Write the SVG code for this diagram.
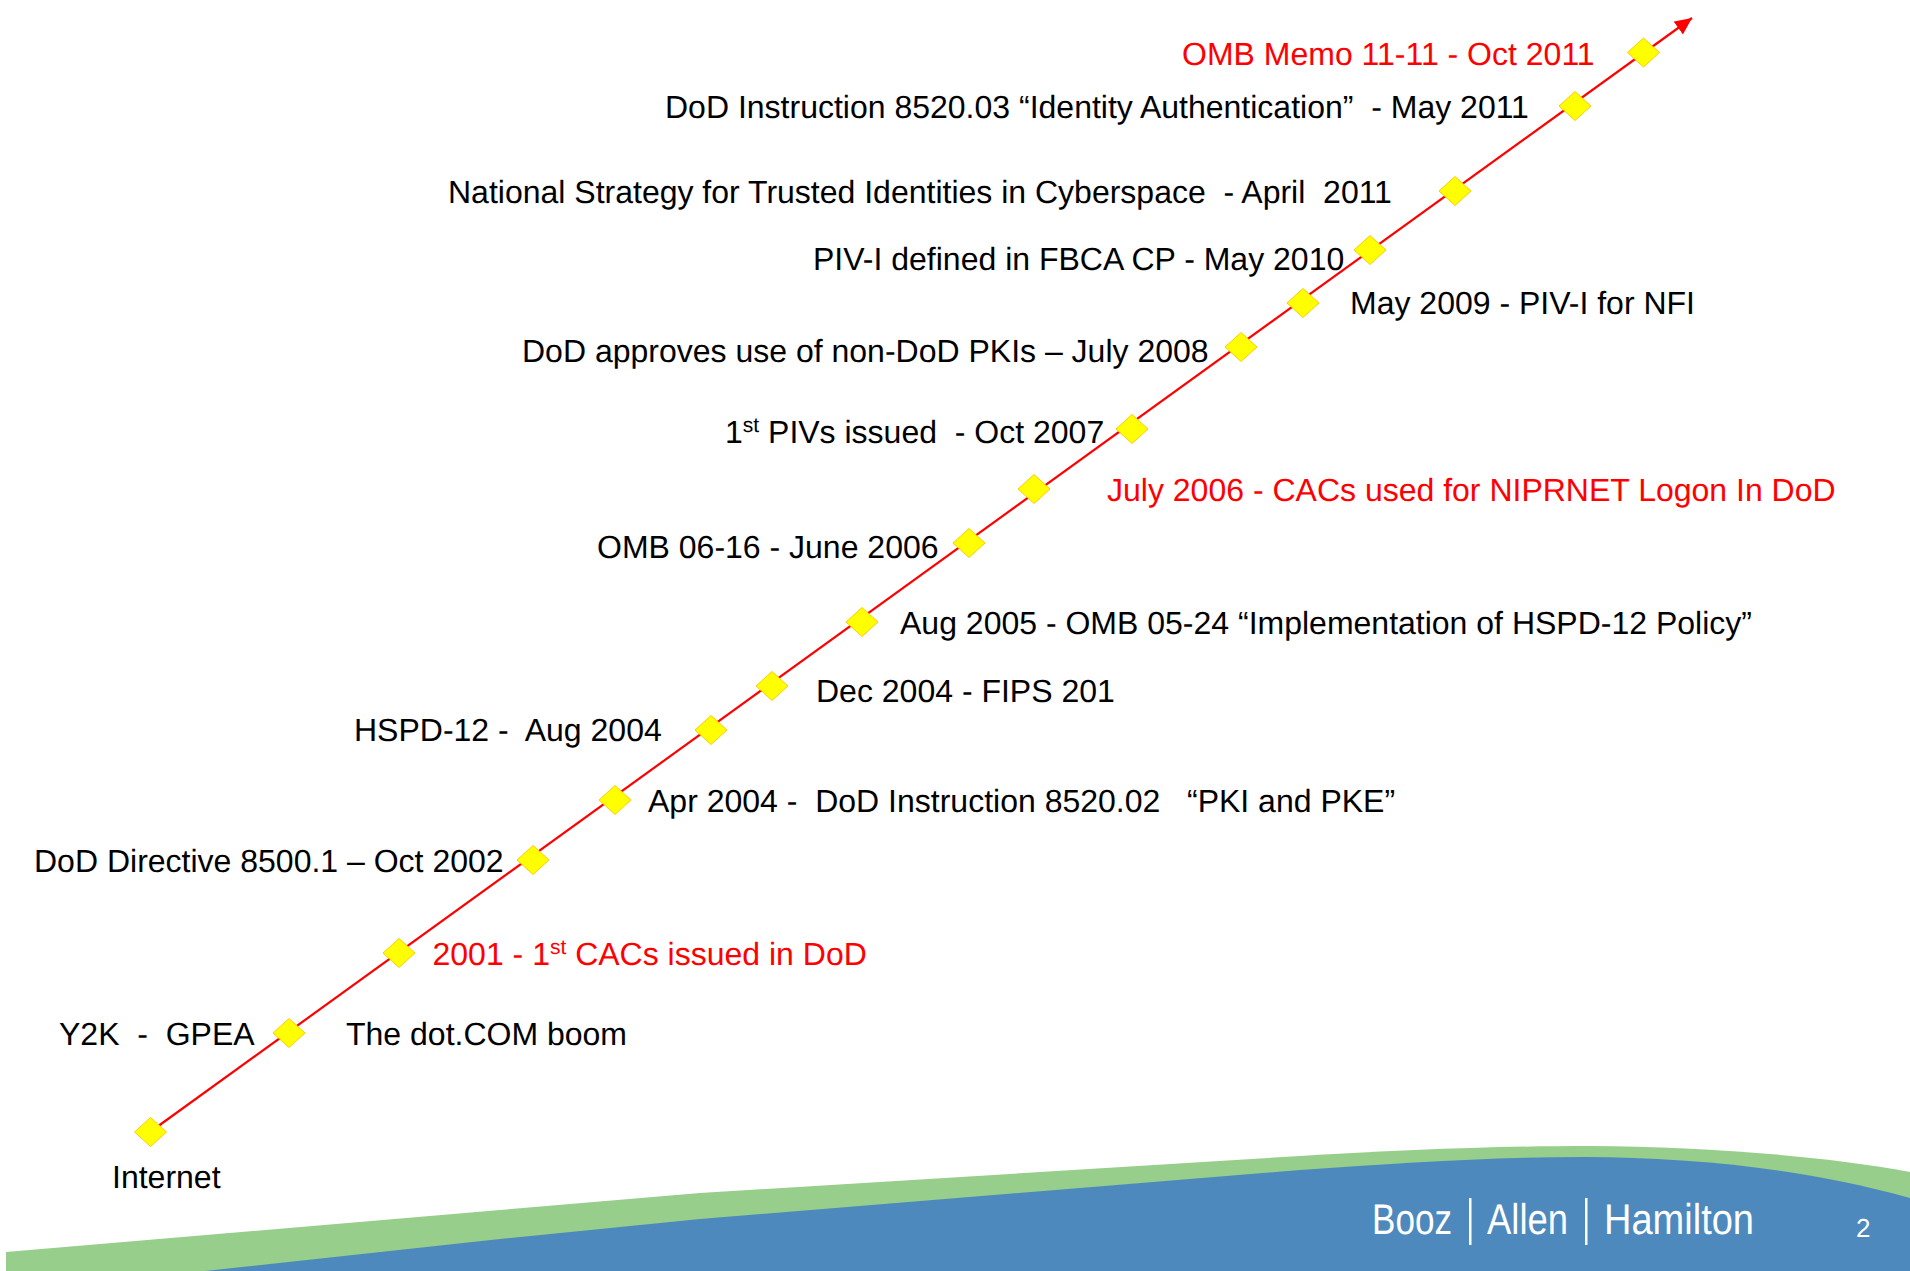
<svg xmlns="http://www.w3.org/2000/svg" width="1910" height="1271" viewBox="0 0 1910 1271">
<style>
text{font-family:"Liberation Sans",Arial,sans-serif;font-size:32px;fill:#000;text-rendering:geometricPrecision}
.r{fill:#f00}
.s{font-size:21px}
.d{fill:#ff0;stroke:#fc0;stroke-width:1}
.w{fill:#fff;font-size:43px}
</style>
<defs>
<marker id="a" markerUnits="userSpaceOnUse" markerWidth="20" markerHeight="18" refX="17" refY="8" orient="auto"><path d="M0 0L17 8L0 16z" fill="#f00"/></marker>
<path id="m" class="d" d="M0-14.500L16 0L0 14.500L-16 0z"/>
</defs>
<rect width="1910" height="1271" fill="#fff"/>
<g id="background">
<path fill="#98ce8b" d="M6 1252L500 1210L700 1193L1300 1156C1400 1150 1500 1146 1590 1146C1700 1147 1820 1155 1910 1172V1271H6z"/>
<path fill="#4d89bd" d="M205 1271L500 1239L700 1219L1300 1170C1400 1163 1490 1157 1585 1157C1690 1158 1800 1167 1910 1198V1271z"/>
</g>
<g id="connectors"><line x1="150" y1="1132" x2="1692" y2="18" stroke="#f00" stroke-width="2.2" marker-end="url(#a)"/></g>
<g id="n1"><use href="#m" x="150.500" y="1132"/><text x="112" y="1188">Internet</text></g>
<g id="n2"><use href="#m" x="289" y="1033"/><text x="59" y="1045" xml:space="preserve">Y2K  -  GPEA</text><text x="346" y="1045">The dot.COM boom</text></g>
<g id="n3"><use href="#m" x="399" y="953"/><text x="432.500" y="964.500" class="r">2001 - 1<tspan class="s" dy="-11">st</tspan><tspan dy="11"> CACs issued in DoD</tspan></text></g>
<g id="n4"><use href="#m" x="533" y="860"/><text x="34" y="872">DoD Directive 8500.1 – Oct 2002</text></g>
<g id="n5"><use href="#m" x="615" y="800"/><text x="648" y="812" xml:space="preserve">Apr 2004 -  DoD Instruction 8520.02   “PKI and PKE”</text></g>
<g id="n6"><use href="#m" x="711" y="730"/><text x="354" y="741" xml:space="preserve">HSPD-12 -  Aug 2004</text></g>
<g id="n7"><use href="#m" x="772" y="686"/><text x="816" y="702">Dec 2004 - FIPS 201</text></g>
<g id="n8"><use href="#m" x="862" y="622"/><text x="900" y="634">Aug 2005 - OMB 05-24 “Implementation of HSPD-12 Policy”</text></g>
<g id="n9"><use href="#m" x="969" y="543"/><text x="597" y="558">OMB 06-16 - June 2006</text></g>
<g id="n10"><use href="#m" x="1034" y="489"/><text x="1107" y="501" class="r">July 2006 - CACs used for NIPRNET Logon In DoD</text></g>
<g id="n11"><use href="#m" x="1132" y="429"/><text x="725" y="443" xml:space="preserve">1<tspan class="s" dy="-11">st</tspan><tspan dy="11"> PIVs issued  - Oct 2007</tspan></text></g>
<g id="n12"><use href="#m" x="1241" y="347"/><text x="522" y="362">DoD approves use of non-DoD PKIs – July 2008</text></g>
<g id="n13"><use href="#m" x="1303" y="303"/><text x="1350" y="314">May 2009 - PIV-I for NFI</text></g>
<g id="n14"><use href="#m" x="1370" y="250"/><text x="813" y="270">PIV-I defined in FBCA CP - May 2010</text></g>
<g id="n15"><use href="#m" x="1455" y="191"/><text x="448" y="203" xml:space="preserve">National Strategy for Trusted Identities in Cyberspace  - April  2011</text></g>
<g id="n16"><use href="#m" x="1575" y="106"/><text x="665" y="118" xml:space="preserve">DoD Instruction 8520.03 “Identity Authentication”  - May 2011</text></g>
<g id="n17"><use href="#m" x="1643.500" y="52.500"/><text x="1182" y="65" class="r">OMB Memo 11-11 - Oct 2011</text></g>
<g id="logo">
<text class="w" x="1372" y="1234" textLength="80" lengthAdjust="spacingAndGlyphs">Booz</text>
<rect x="1469" y="1198" width="2.500" height="47" fill="#fff"/>
<text class="w" x="1487" y="1234" textLength="81" lengthAdjust="spacingAndGlyphs">Allen</text>
<rect x="1585" y="1198" width="2.500" height="47" fill="#fff"/>
<text class="w" x="1604" y="1234" textLength="150" lengthAdjust="spacingAndGlyphs">Hamilton</text>
</g>
<text x="1856" y="1237" style="fill:#fff;font-size:26px">2</text>
</svg>
